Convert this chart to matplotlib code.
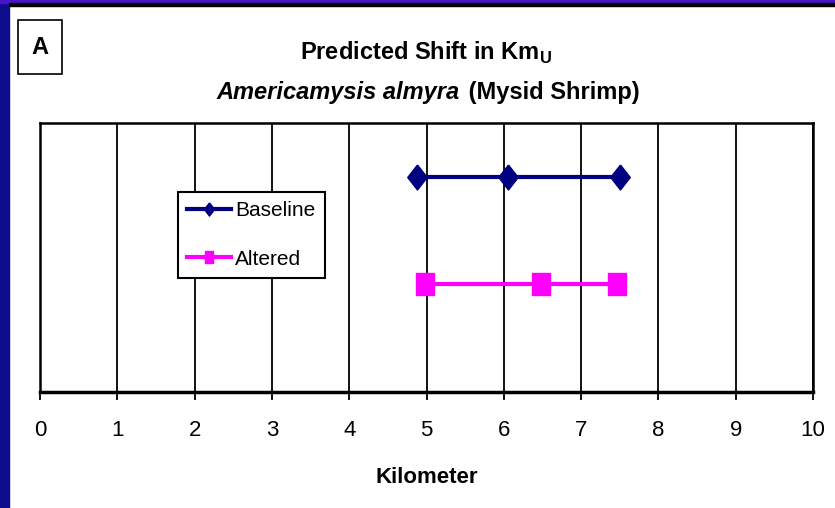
import numpy as np
import matplotlib
matplotlib.use("Agg")
from matplotlib import pyplot as plt
from matplotlib.patches import Rectangle

plt.rcParams["font.family"] = ["Liberation Sans", "DejaVu Sans"]
plt.rcParams["mathtext.fontset"] = "custom"
plt.rcParams["mathtext.rm"] = "Liberation Sans"
plt.rcParams["mathtext.bf"] = "Liberation Sans:bold"

# data
# ---------------------------------------
series = ["Baseline", "Altered"]
baseline_km = [4.88, 6.05, 7.5]
altered_km = [4.98, 6.48, 7.46]
row_level = [2, 1]
x_ticks = list(range(0, 11))

colors = ["#000080", "#FF00FF"]

# tall diamond and tall square, like the old excel markers
diamond = [(0, 1), (0.78, 0), (0, -1), (-0.78, 0), (0, 1)]
square = [(-0.78, -1), (0.78, -1), (0.78, 1), (-0.78, 1), (-0.78, -1)]
markers = [diamond, square]
msizes = [18, 16.5]
leg_msizes = [9.5, 8]

fig = plt.figure(figsize=(8.35, 5.08), dpi=100)
fig.patch.set_facecolor("white")

# slide border
fig.patches.append(Rectangle((0, 0), 9/835, 1, transform=fig.transFigure,
                             color="#0c0c8c", zorder=0))
fig.patches.append(Rectangle((0, 1 - 3/508), 1, 3/508, transform=fig.transFigure,
                             color="#4a14c8", zorder=1))
fig.patches.append(Rectangle((9/835, 1 - 6/508), 1, 3/508, transform=fig.transFigure,
                             color="black", zorder=1))

ax = fig.add_axes([40/835, 116/508, 773/835, 269/508])

for i, km in enumerate([baseline_km, altered_km]):
    ax.plot(km, [row_level[i]] * len(km), color=colors[i], marker=markers[i],
            lw=3, markersize=msizes[i], label=series[i], zorder=3,
            clip_on=False)

ax.set_xlim(0, 10)
ax.set_ylim(0, 2.5)
ax.set_xticks(x_ticks)
ax.set_yticks([])
ax.grid(axis="x", color="black", lw=1.3)
ax.set_axisbelow(True)
for side in ["top", "right", "left"]:
    ax.spines[side].set_linewidth(1.8)
ax.spines["bottom"].set_linewidth(2.5)
ax.tick_params(axis="x", direction="out", length=6, width=1.3,
               labelsize=16, pad=14)
ax.set_xlabel("Kilometer", fontsize=16, fontweight="bold", labelpad=19)

leg = ax.legend(loc="upper left", bbox_to_anchor=(178/835, 1 - 192/508),
                bbox_transform=fig.transFigure, fontsize=15, frameon=True,
                fancybox=False, edgecolor="black", framealpha=1,
                handlelength=2.1, handletextpad=0.2, borderpad=0.45,
                labelspacing=1.4, borderaxespad=0)
leg.get_frame().set_linewidth(1.5)
for h, s in zip(leg.legend_handles, leg_msizes):
    h.set_markersize(s)

# panel label
fig.patches.append(Rectangle((18/835, 1 - 74/508), 44/835, 54/508,
                             transform=fig.transFigure, fc="white",
                             ec="black", lw=1.2, zorder=2))
fig.text(40/835, 1 - 47/508, "A", fontsize=17, fontweight="bold",
         ha="center", va="center", zorder=3)

# titles
cx = 426.5 / 835
fig.text(cx, 1 - 53/508, r"Predicted Shift in Km$_{\mathbf{U}}$", fontsize=17,
         fontweight="bold", ha="center", va="center")

t1 = fig.text(0, 1 - 93/508, "Americamysis almyra", fontsize=17,
              fontweight="bold", style="italic", ha="left", va="center")
t2 = fig.text(0, 1 - 93/508, " (Mysid Shrimp)", fontsize=17,
              fontweight="bold", ha="left", va="center")
fig.canvas.draw()
r = fig.canvas.get_renderer()
w1 = t1.get_window_extent(r).width / fig.bbox.width
w2 = t2.get_window_extent(r).width / fig.bbox.width
x0 = cx - (w1 + w2) / 2
t1.set_x(x0)
t2.set_x(x0 + w1 + 3/835)

plt.savefig("out.png", dpi=100)
